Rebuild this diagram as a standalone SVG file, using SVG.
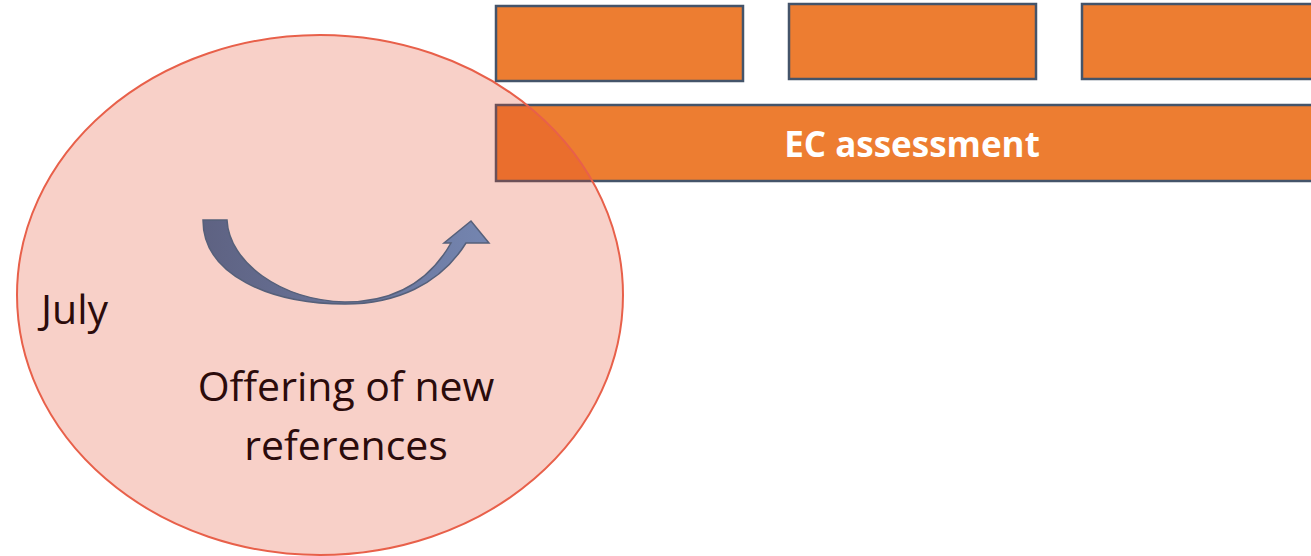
<svg xmlns="http://www.w3.org/2000/svg" width="1311" height="556" viewBox="0 0 1311 556">
<style>
.box{fill:#ED7D31;stroke:#44546A;stroke-width:2.5}
.lbl{font-family:"Open Sans","Liberation Sans",sans-serif;font-weight:bold;fill:#FFFFFF;font-size:35px}
.txt{font-family:"Open Sans","Liberation Sans",sans-serif;fill:#2B0B0B;font-size:41px}
</style>
<defs>
<linearGradient id="ag" x1="0" y1="0" x2="1" y2="0">
<stop offset="0" stop-color="#5E6282"/>
<stop offset="1" stop-color="#7485B0"/>
</linearGradient>
</defs>
<g id="box1"><rect class="box" x="496" y="6" width="247" height="75"/></g>
<g id="box2"><rect class="box" x="789" y="4" width="247" height="75"/></g>
<g id="box3"><rect class="box" x="1082" y="4" width="240" height="75"/></g>
<g id="ec"><rect class="box" x="496" y="105" width="830" height="76"/>
<text class="lbl" x="912" y="157" text-anchor="middle">EC assessment</text></g>
<g id="july">
<ellipse cx="320" cy="295" rx="303" ry="260" fill="rgb(227,67,35)" fill-opacity="0.25" stroke="#E8604A" stroke-width="2"/>
<text class="txt" x="41" y="324" font-size="43">July</text>
<text class="txt" x="346" y="401" text-anchor="middle">Offering of new</text>
<text class="txt" x="346" y="460" text-anchor="middle">references</text>
</g>
<g id="connectors">
<path d="M203,220 L227,220 C229,262 280,300 345,302 C395,302 430,280 451,243 L444,243 L471,221 L489,243 L466,243 C440,285 395,304 345,304 C270,304 203,275 203,220 Z" fill="url(#ag)" stroke="#56607A" stroke-width="1.5"/>
</g>
</svg>
